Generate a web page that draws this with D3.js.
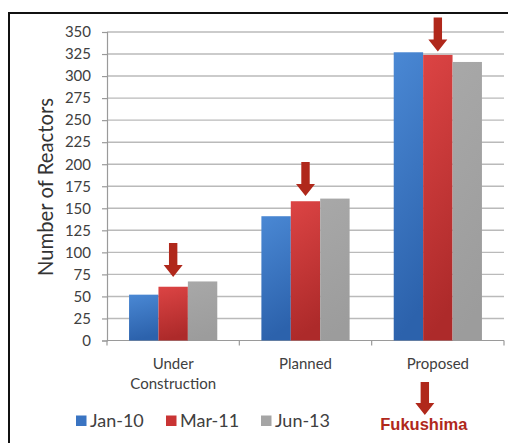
<!DOCTYPE html>
<html>
<head>
<meta charset="utf-8">
<script src="https://cdn.jsdelivr.net/npm/d3@7/dist/d3.min.js"></script>
<style>
  html, body { margin: 0; padding: 0; background: #fff; }
  svg { display: block; }
</style>
</head>
<body>
<svg id="chart" width="508" height="443"></svg>
<script>
// Reactor counts by project stage, at three snapshot dates
const categories = ["Under Construction", "Planned", "Proposed"];
const categoryLines = [["Under", "Construction"], ["Planned"], ["Proposed"]];
const series = ["Jan-10", "Mar-11", "Jun-13"];
const jan10 = [52, 141, 327];
const mar11 = [61, 158, 324];
const jun13 = [67, 161, 316];
const yTicks = [0, 25, 50, 75, 100, 125, 150, 175, 200, 225, 250, 275, 300, 325, 350];
// Where each "before/after Fukushima" arrow points (value on the y scale)
const arrowTips = [72, 164, 328];

const values = [jan10, mar11, jun13];
const colors = {
  "Jan-10": ["#4a88d4", "#2c62ac"],
  "Mar-11": ["#dc4444", "#ad2a2a"],
  "Jun-13": ["#a8a8a8", "#9c9c9c"]
};
const swatch = { "Jan-10": "#3a74c2", "Mar-11": "#c93434", "Jun-13": "#a5a5a5" };
const arrowColor = "#b0281b";
const textColor = "#404040";

const svg = d3.select("#chart");
const defs = svg.append("defs");

series.forEach((s, i) => {
  const g = defs.append("linearGradient")
    .attr("id", "grad" + i)
    .attr("x1", 0).attr("y1", 0).attr("x2", 0.15).attr("y2", 1);
  g.append("stop").attr("offset", "0%").attr("stop-color", colors[s][0]);
  g.append("stop").attr("offset", "100%").attr("stop-color", colors[s][1]);
});

const plot = { left: 107, right: 504, top: 32, bottom: 340.5 };

const y = d3.scaleLinear().domain([0, 350]).range([plot.bottom, plot.top]);
const x0 = d3.scaleBand().domain(categories).range([plot.left, plot.right]).padding(0);
const x1 = d3.scaleBand().domain(series).range([0, x0.bandwidth()])
  .paddingInner(0).paddingOuter(0.75);

// outer frame
svg.append("rect")
  .attr("x", 9).attr("y", 13)
  .attr("width", 540).attr("height", 460)
  .attr("fill", "none").attr("stroke", "#111").attr("stroke-width", 2);

// horizontal gridlines
svg.append("g")
  .selectAll("line")
  .data(yTicks.filter(t => t > 0))
  .join("line")
  .attr("x1", plot.left).attr("x2", plot.right)
  .attr("y1", d => y(d)).attr("y2", d => y(d))
  .attr("stroke", "#bababa").attr("stroke-width", 1.4);

// y axis
const yAxis = svg.append("g")
  .attr("transform", `translate(${plot.left},0)`)
  .call(d3.axisLeft(y).tickValues(yTicks).tickSize(5).tickPadding(11));
yAxis.select(".domain").attr("stroke", "#9a9a9a").attr("stroke-width", 1.2);
yAxis.selectAll(".tick line").attr("stroke", "#9a9a9a").attr("stroke-width", 1.2);
yAxis.selectAll(".tick text")
  .attr("fill", textColor)
  .style("font-family", "Lato, 'Open Sans', sans-serif")
  .style("font-size", "15px");

// x axis baseline with category separators
const xg = svg.append("g");
xg.append("line")
  .attr("x1", plot.left).attr("x2", plot.right)
  .attr("y1", plot.bottom).attr("y2", plot.bottom)
  .attr("stroke", "#9a9a9a").attr("stroke-width", 1.2);
const edges = categories.map(c => x0(c)).concat([x0(categories[categories.length - 1]) + x0.bandwidth()]);
xg.selectAll("line.sep")
  .data(edges)
  .join("line")
  .attr("class", "sep")
  .attr("x1", d => d).attr("x2", d => d)
  .attr("y1", plot.bottom).attr("y2", plot.bottom + 5)
  .attr("stroke", "#9a9a9a").attr("stroke-width", 1.2);

// category labels
const catLabels = xg.selectAll("text.cat")
  .data(categories)
  .join("text")
  .attr("class", "cat")
  .attr("text-anchor", "middle")
  .attr("fill", textColor)
  .style("font-family", "Lato, 'Open Sans', sans-serif")
  .style("font-size", "15px");
catLabels.each(function(c, i) {
  const t = d3.select(this);
  categoryLines[i].forEach((line, j) => {
    t.append("tspan")
      .attr("x", x0(c) + x0.bandwidth() / 2)
      .attr("y", 369 + j * 20.3)
      .text(line);
  });
});

// bars
const groups = svg.append("g")
  .selectAll("g")
  .data(categories)
  .join("g")
  .attr("transform", c => `translate(${x0(c)},0)`);

groups.selectAll("rect")
  .data((c, ci) => series.map((s, si) => ({ s, si, v: values[si][ci] })))
  .join("rect")
  .attr("x", d => x1(d.s))
  .attr("width", x1.bandwidth())
  .attr("y", d => y(d.v))
  .attr("height", d => y(0) - y(d.v))
  .attr("fill", d => `url(#grad${d.si})`);

// down-arrow shape, tip at (0,0)
function arrowPath(len) {
  const headH = 12, headW = 9.5, shaftW = 4.2;
  return `M0,0 L${-headW},${-headH} L${-shaftW},${-headH} L${-shaftW},${-len}` +
         ` L${shaftW},${-len} L${shaftW},${-headH} L${headW},${-headH} Z`;
}

// arrows marking the Mar-11 bars
svg.append("g")
  .selectAll("path")
  .data(categories)
  .join("path")
  .attr("d", arrowPath(34))
  .attr("fill", arrowColor)
  .attr("transform", (c, i) =>
    `translate(${x0(c) + x1("Mar-11") + x1.bandwidth() / 2},${y(arrowTips[i])})`);

// y axis title
svg.append("text")
  .attr("transform", "translate(52.5,187) rotate(-90)")
  .attr("text-anchor", "middle")
  .attr("fill", "#333")
  .style("font-family", "Lato, 'Open Sans', sans-serif")
  .style("font-size", "20.3px")
  .text("Number of Reactors");

// legend
const legendX = [76, 166, 261];
const legend = svg.append("g")
  .selectAll("g")
  .data(series)
  .join("g")
  .attr("transform", (s, i) => `translate(${legendX[i]},415.5)`);
legend.append("rect")
  .attr("width", 10.5).attr("height", 10.5)
  .attr("fill", s => swatch[s]);
legend.append("text")
  .attr("x", 14).attr("y", 11)
  .attr("fill", textColor)
  .style("font-family", "Lato, 'Open Sans', sans-serif")
  .style("font-size", "18px")
  .text(s => s);

// Fukushima marker under the Proposed group
const fx = x0("Proposed") + x0.bandwidth() / 2 - 13;
svg.append("path")
  .attr("d", arrowPath(33))
  .attr("fill", arrowColor)
  .attr("transform", `translate(${fx},415)`);
svg.append("text")
  .attr("x", fx - 1).attr("y", 429.5)
  .attr("text-anchor", "middle")
  .attr("fill", arrowColor)
  .style("font-family", "'Liberation Sans', Arial, sans-serif")
  .style("font-weight", "bold")
  .style("font-size", "16.5px")
  .text("Fukushima");
</script>
</body>
</html>
